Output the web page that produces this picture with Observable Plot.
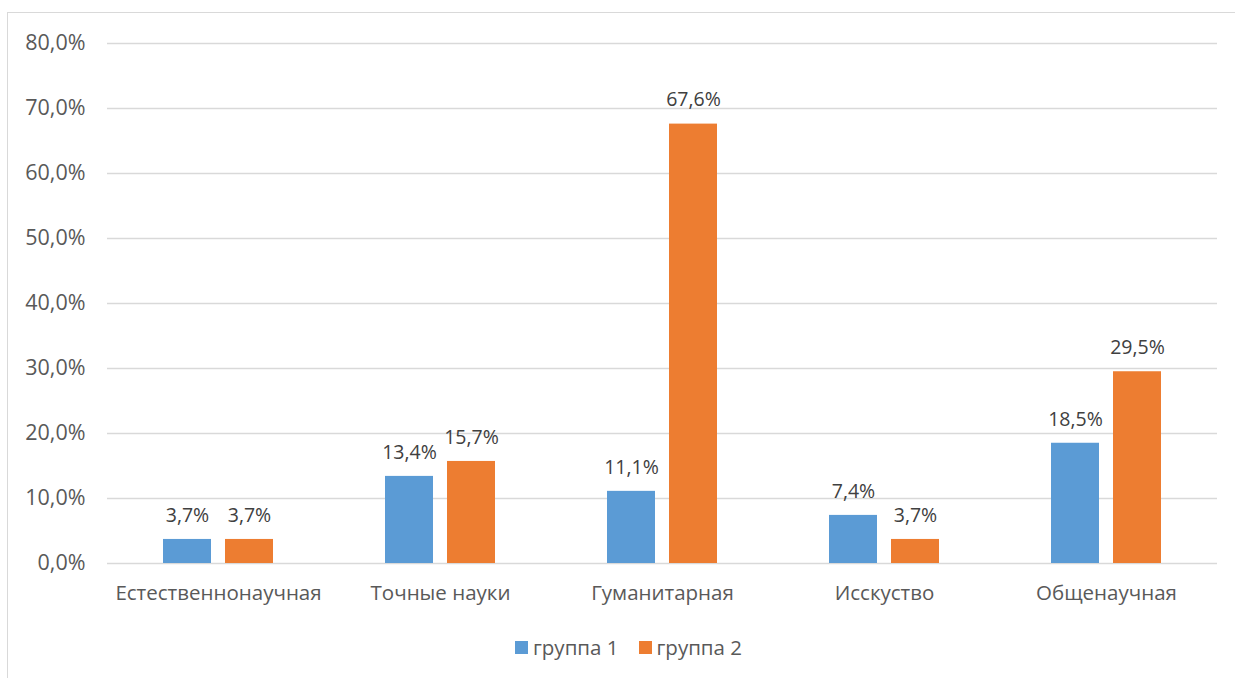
<!DOCTYPE html>
<html><head><meta charset="utf-8">
<script src="https://cdn.jsdelivr.net/npm/d3@7"></script>
<script src="https://cdn.jsdelivr.net/npm/@observablehq/plot@0.6"></script>
<style>
body{margin:0;background:#fff;font-family:"Open Sans",sans-serif;}
#wrap{position:relative;width:1235px;height:678px;overflow:hidden;}
#frame{position:absolute;left:7px;top:12px;width:1240px;height:700px;border-left:1.5px solid #d9d9d9;border-top:1.5px solid #d9d9d9;}
#chart{position:absolute;left:0;top:0;}
#legend{position:absolute;left:0;width:1235px;top:633px;display:flex;justify-content:center;gap:20px;font-size:20.5px;color:#595959;padding-left:22px;box-sizing:border-box;}
#legend span.sw{display:inline-block;width:13px;height:13px;margin-right:5px;vertical-align:middle;position:relative;top:-2px;}
</style></head>
<body>
<div id="wrap"><div id="frame"></div><div id="chart"></div><div id="legend"></div></div>
<script>
const categories = ["Естественнонаучная","Точные науки","Гуманитарная","Исскуство","Общенаучная"];
const groups = ["группа 1","группа 2"];
const group1 = [3.7, 13.4, 11.1, 7.4, 18.5];
const group2 = [3.7, 15.7, 67.6, 3.7, 29.5];
const colors = ["#5B9BD5","#ED7D31"];
const yTicks = [0,10,20,30,40,50,60,70,80];

const data = [];
categories.forEach((c,i)=>{
  data.push({cat:c, group:groups[0], value:group1[i]});
  data.push({cat:c, group:groups[1], value:group2[i]});
});
const fmt = v => v.toFixed(1).replace(".", ",") + "%";

const chart = Plot.plot({
  width: 1235,
  height: 615,
  marginLeft: 107,
  marginRight: 18,
  marginTop: 43,
  marginBottom: 52,
  style: {fontFamily: "Open Sans, sans-serif", fontSize: "21px", color: "#595959", background: "transparent"},
  fx: {domain: categories, padding: 0, label: null},
  x: {domain: groups, paddingInner: 0.222, paddingOuter: 0.873, axis: null},
  y: {domain: [0, 80], label: null},
  color: {domain: groups, range: colors},
  marks: [
    Plot.ruleY(yTicks, {stroke: "#d9d9d9", strokeWidth: 1.5}),
    Plot.axisY({ticks: yTicks, tickFormat: fmt, tickSize: 0, tickPadding: 22, fontSize: 21.5, fill: "#595959", label: null}),
    Plot.axisFx({anchor: "bottom", tickSize: 0, tickPadding: 22, fontSize: 20.5, fill: "#595959", label: null}),
    Plot.barY(data, {fx: "cat", x: "group", y: "value", fill: "group"}),
    Plot.text(data, {fx: "cat", x: "group", y: "value", text: d => fmt(d.value), dy: -24, fill: "#404040", fontSize: 19.5})
  ]
});
document.getElementById("chart").appendChild(chart);

const leg = document.getElementById("legend");
groups.forEach((g,i)=>{
  const s = document.createElement("span");
  s.innerHTML = `<span class="sw" style="background:${colors[i]}"></span>${g}`;
  leg.appendChild(s);
});
</script>
</body></html>
